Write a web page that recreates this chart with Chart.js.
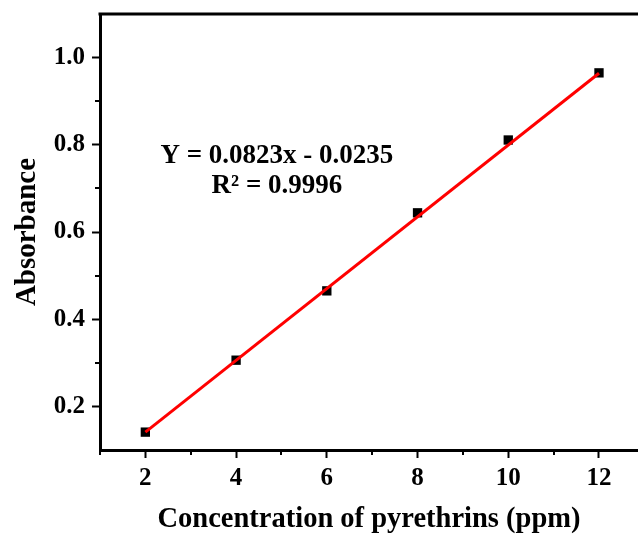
<!DOCTYPE html>
<html>
<head>
<meta charset="utf-8">
<script src="https://cdn.jsdelivr.net/npm/chart.js@4"></script>
<style>
  html, body { margin: 0; padding: 0; background: #fff; overflow: hidden; }
  #wrap { width: 638px; height: 537px; position: relative; }
</style>
</head>
<body>
<div id="wrap"><canvas id="c" width="638" height="537"></canvas></div>
<script>
// ---- data ----
const concentrations = [2, 4, 6, 8, 10, 12];
const absorbance = [0.141, 0.306, 0.465, 0.644, 0.811, 0.965];
const fitX = [2, 12];
const fitY = [0.141, 0.964];
const xMajorTicks = [2, 4, 6, 8, 10, 12];
const xMinorTicks = [1, 3, 5, 7, 9, 11];
const yMajorTicks = [0.2, 0.4, 0.6, 0.8, 1.0];
const yMinorTicks = [0.3, 0.5, 0.7, 0.9];
const equationLines = ['Y = 0.0823x - 0.0235', 'R\u00B2 = 0.9996'];
const xTitle = 'Concentration of pyrethrins (ppm)';
const yTitle = 'Absorbance';

const FONT = '"Liberation Serif", "Times New Roman", serif';

const extras = {
  id: 'extras',
  afterDraw(chart) {
    const ctx = chart.ctx;
    const xs = chart.scales.x, ys = chart.scales.y;
    const area = chart.chartArea;
    ctx.save();
    ctx.strokeStyle = '#000';
    ctx.lineWidth = 2;
    // minor ticks
    xMinorTicks.forEach(v => {
      const px = Math.round(xs.getPixelForValue(v));
      ctx.beginPath();
      ctx.moveTo(px, area.bottom);
      ctx.lineTo(px, area.bottom + 5);
      ctx.stroke();
    });
    yMinorTicks.forEach(v => {
      const py = Math.round(ys.getPixelForValue(v));
      ctx.beginPath();
      ctx.moveTo(area.left, py);
      ctx.lineTo(area.left - 5, py);
      ctx.stroke();
    });
    // top frame line
    ctx.lineWidth = 3;
    ctx.beginPath();
    ctx.moveTo(area.left - 1.5, area.top);
    ctx.lineTo(chart.width, area.top);
    ctx.stroke();
    // equation text
    ctx.fillStyle = '#000';
    ctx.font = 'bold 27px ' + FONT;
    ctx.textAlign = 'center';
    ctx.textBaseline = 'alphabetic';
    const cx = xs.getPixelForValue(4.9);
    ctx.fillText(equationLines[0], cx, ys.getPixelForValue(0.8) + 18);
    ctx.fillText(equationLines[1], cx, ys.getPixelForValue(0.8) + 48);
    ctx.restore();
  }
};

new Chart(document.getElementById('c'), {
  type: 'scatter',
  data: {
    datasets: [
      {
        type: 'line',
        label: 'fit',
        data: fitX.map((x, i) => ({ x, y: fitY[i] })),
        borderColor: '#ff0000',
        borderWidth: 3,
        pointRadius: 0,
        fill: false,
        tension: 0
      },
      {
        label: 'data',
        data: concentrations.map((x, i) => ({ x, y: absorbance[i] })),
        pointStyle: 'rect',
        pointRadius: 6.6,
        pointBackgroundColor: '#000',
        pointBorderColor: '#000',
        pointBorderWidth: 0
      }
    ]
  },
  options: {
    responsive: false,
    animation: false,
    devicePixelRatio: 1,
    layout: { autoPadding: false, padding: { top: 14, right: 0, left: 0, bottom: 0 } },
    plugins: { legend: { display: false }, tooltip: { enabled: false } },
    scales: {
      x: {
        type: 'linear',
        min: 1,
        max: 12.86,
        afterBuildTicks: s => { s.ticks = xMajorTicks.map(v => ({ value: v })); },
        afterFit: s => { s.height = 87; s.paddingLeft = 0; s.paddingRight = 0; },
        grid: { drawOnChartArea: false, drawTicks: true, tickLength: 8, tickWidth: 2, tickColor: '#000' },
        border: { display: true, color: '#000', width: 3 },
        ticks: {
          color: '#000', padding: 6, maxRotation: 0,
          font: { family: FONT, size: 25, weight: 'bold' },
          callback: v => String(v)
        },
        title: {
          display: true, text: xTitle, color: '#000',
          font: { family: FONT, size: 28.5, weight: 'bold' },
          padding: { top: 0, bottom: 0 }
        }
      },
      y: {
        type: 'linear',
        min: 0.1,
        max: 1.1,
        afterBuildTicks: s => { s.ticks = yMajorTicks.map(v => ({ value: v })); },
        afterFit: s => { s.width = 100; s.paddingTop = 0; s.paddingBottom = 0; },
        grid: { drawOnChartArea: false, drawTicks: true, tickLength: 8, tickWidth: 2, tickColor: '#000' },
        border: { display: true, color: '#000', width: 3 },
        ticks: {
          color: '#000', padding: 7,
          font: { family: FONT, size: 25, weight: 'bold' },
          callback: v => Number(v).toFixed(1)
        },
        title: {
          display: true, text: yTitle, color: '#000',
          font: { family: FONT, size: 29, weight: 'bold' },
          padding: { top: 10, bottom: 0 }
        }
      }
    }
  },
  plugins: [extras]
});
</script>
</body>
</html>
